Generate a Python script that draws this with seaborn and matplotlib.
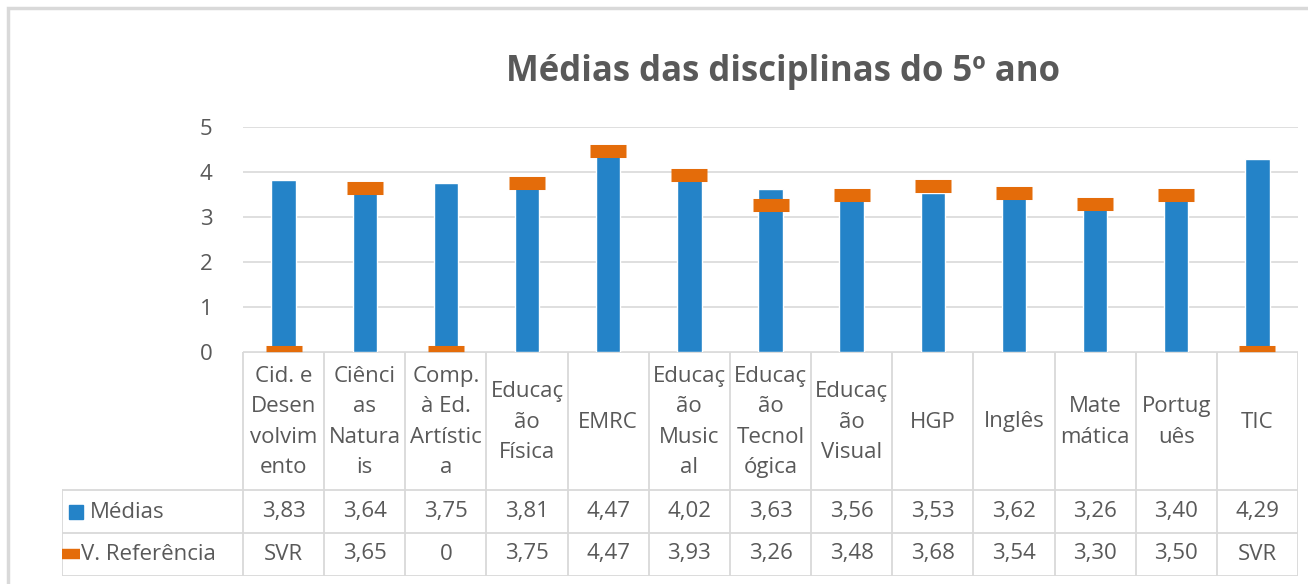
import numpy as np
import pandas as pd
import seaborn as sns
import matplotlib.pyplot as plt
from matplotlib.patches import Rectangle

sns.set_style("white")
plt.rcParams["font.family"] = ["Open Sans", "DejaVu Sans"]

categories = ["Cid. e Desenvolvimento", "Ciências Naturais", "Comp. à Ed. Artística",
              "Educação Física", "EMRC", "Educação Musical", "Educação Tecnológica",
              "Educação Visual", "HGP", "Inglês", "Matemática", "Português", "TIC"]
header_labels = ["Cid. e\nDesen\nvolvim\nento", "Ciênci\nas\nNatura\nis", "Comp.\nà Ed.\nArtístic\na",
                 "Educaç\não\nFísica", "EMRC", "Educaç\não\nMusic\nal", "Educaç\não\nTecnol\nógica",
                 "Educaç\não\nVisual", "HGP", "Inglês", "Mate\nmática", "Portug\nuês", "TIC"]
medias = [3.83, 3.64, 3.75, 3.81, 4.47, 4.02, 3.63, 3.56, 3.53, 3.62, 3.26, 3.40, 4.29]
referencia = ["SVR", 3.65, 0, 3.75, 4.47, 3.93, 3.26, 3.48, 3.68, 3.54, 3.30, 3.50, "SVR"]

BLUE = "#2483C8"
ORANGE = "#E46C0A"
TXT = "#595959"
GRID = "#D9D9D9"
FS = 16

# Excel plots the text "SVR" as zero
ref_plot = [v if isinstance(v, (int, float)) else 0 for v in referencia]
df = pd.DataFrame({"disciplina": categories, "media": medias, "ref": ref_plot})

W, H = 1308, 584


def rect(x0, y0, x1, y1):
    return [x0 / W, 1 - y1 / H, (x1 - x0) / W, (y1 - y0) / H]


def fmt(v):
    return f"{v:.2f}".replace(".", ",") if isinstance(v, float) else str(v)


fig = plt.figure(figsize=(W / 100, H / 100), dpi=100)
fig.add_artist(Rectangle((8 / W, -0.1), 1.2, 1 - 8 / H + 0.1, transform=fig.transFigure,
                         fill=False, edgecolor=GRID, lw=2.5))

# chart area
ax = fig.add_axes(rect(243, 127, 1298, 352))
sns.barplot(data=df, x="disciplina", y="media", order=categories, color=BLUE,
            width=0.3, saturation=1, ax=ax, zorder=2)
sns.pointplot(data=df, x="disciplina", y="ref", order=categories, color=ORANGE,
              linestyle="none", marker="_", markersize=26.6, markeredgewidth=9.4,
              errorbar=None, ax=ax, zorder=3)
ax.set_ylim(0, 5)
ax.set_xlim(-0.5, len(categories) - 0.5)
ax.set_yticks(range(6))
ax.yaxis.grid(True, color=GRID, lw=1.2, zorder=0)
ax.set_axisbelow(True)
ax.tick_params(axis="y", length=0, pad=22, labelsize=16, labelcolor=TXT)
ax.tick_params(axis="x", length=0, labelbottom=False)
ax.set_xlabel("")
ax.set_ylabel("")
for s in ax.spines.values():
    s.set_visible(False)

fig.text(783 / W, 1 - 72 / H, "Médias das disciplinas do 5º ano", ha="center", va="center",
         fontsize=25, fontweight="bold", color=TXT)

# data table
n = len(categories)
col_w = 1055 / n
lab_w = 181 / col_w
xmin = -0.5 - lab_w
tab = fig.add_axes(rect(62, 352, 1298, 576))
tab.set_xlim(xmin, n - 0.5)
tab.set_ylim(224, 0)
tab.axis("off")

lc = dict(color=GRID, lw=1.3)
tab.plot([-0.5, n - 0.5], [0, 0], **lc)
for yy in (138, 181, 224):
    tab.plot([xmin, n - 0.5], [yy, yy], **lc)
for k in range(n + 1):
    tab.plot([k - 0.5, k - 0.5], [0, 224], **lc)
tab.plot([xmin, xmin], [138, 224], **lc)

for i in range(n):
    tab.text(i, 70, header_labels[i], ha="center", va="center", fontsize=FS,
             color=TXT, linespacing=1.6)
    tab.text(i, 160, fmt(medias[i]), ha="center", va="center", fontsize=FS, color=TXT)
    tab.text(i, 202, fmt(referencia[i]), ha="center", va="center", fontsize=FS, color=TXT)

px = 1 / col_w
tab.plot([xmin + 14 * px], [160], marker="s", markersize=9.5, color=BLUE, clip_on=False)
tab.plot([xmin + 9 * px], [202], marker="_", markersize=13, markeredgewidth=7.5,
         color=ORANGE, clip_on=False)
tab.text(xmin + 28 * px, 160, "Médias", ha="left", va="center", fontsize=FS, color=TXT)
tab.text(xmin + 19 * px, 202, "V. Referência", ha="left", va="center", fontsize=FS, color=TXT)

fig.savefig("out.png", dpi=100)
